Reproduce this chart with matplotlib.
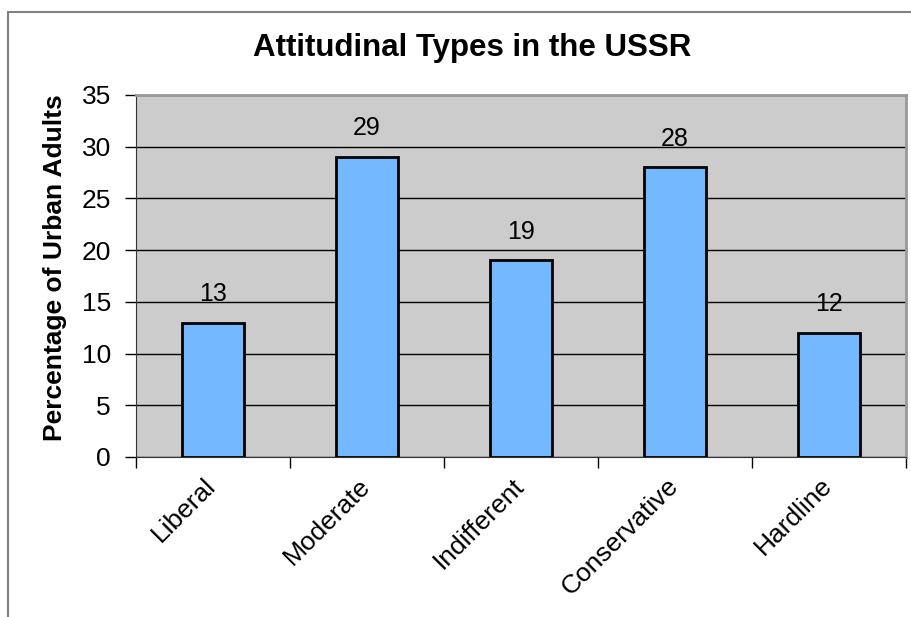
import matplotlib.pyplot as plt
from matplotlib.patches import Rectangle

# Chart data
categories = ['Liberal', 'Moderate', 'Indifferent', 'Conservative', 'Hardline']
values = [13, 29, 19, 28, 12]
yticks = [0, 5, 10, 15, 20, 25, 30, 35]

plt.rcParams['font.family'] = ['Liberation Sans', 'DejaVu Sans']

fig = plt.figure(figsize=(9.11, 6.17), dpi=100)
W, H = 911, 617

# outer chart border (runs past right and bottom edges)
fig.patches.append(Rectangle((8 / W, -0.05), 1.2, (617 - 12) / H + 0.05,
                             transform=fig.transFigure, fill=False,
                             edgecolor='#808080', linewidth=1.5))

ax = fig.add_axes([136 / W, 1 - 457 / H, (906 - 136) / W, (457 - 95) / H])
ax.set_facecolor('#CCCCCC')

x = range(len(categories))
ax.bar(x, values, width=0.4, color='#74B9FF', edgecolor='black', linewidth=2, zorder=3)

for xi, v in zip(x, values):
    ax.annotate(str(v), (xi, v), xytext=(0, 12), textcoords='offset points',
                ha='center', va='bottom', fontsize=18)

ax.set_xlim(-0.5, len(categories) - 0.5)
ax.set_ylim(0, 35)
ax.set_yticks(yticks)
ax.tick_params(axis='y', labelsize=19, length=8, width=1, direction='out', pad=10)
ax.yaxis.grid(True, color='black', linewidth=1, zorder=0)
ax.set_axisbelow(True)

ax.set_xticks([i - 0.5 for i in range(len(categories) + 1)])
ax.set_xticklabels([])
ax.tick_params(axis='x', length=8, width=1, direction='out')
for xi, name in zip(x, categories):
    ax.text(xi - 0.06, -1.6, name, rotation=45, ha='right', va='top',
            rotation_mode='anchor', fontsize=19)

for side in ['top', 'right']:
    ax.spines[side].set_color('#999999')
    ax.spines[side].set_linewidth(2)
ax.spines['left'].set_color('#333333')
ax.spines['bottom'].set_color('#333333')

ax.set_ylabel('Percentage of Urban Adults', fontsize=19, fontweight='bold')
ax.yaxis.set_label_coords((67 - 136) / 770, (457 - 268) / 362)
fig.text(472 / W, 1 - 48 / H, 'Attitudinal Types in the USSR', ha='center', va='center',
         fontsize=22.5, fontweight='bold')

fig.savefig('out.png', dpi=100)
